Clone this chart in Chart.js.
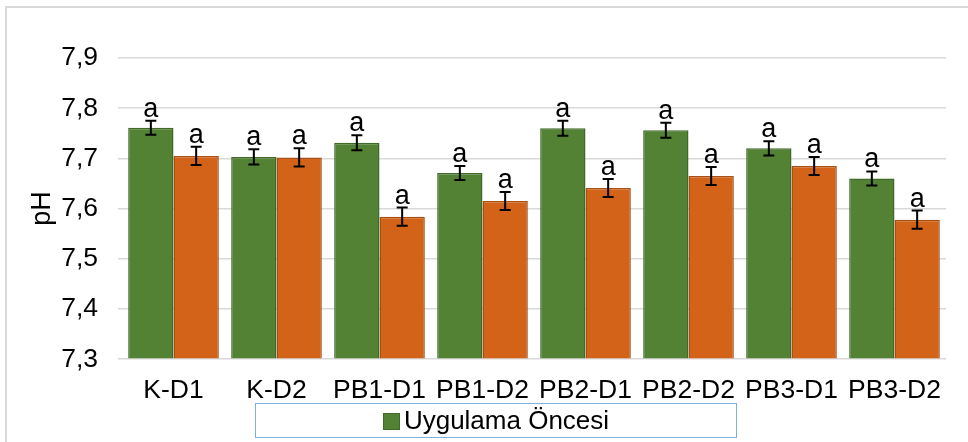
<!DOCTYPE html>
<html>
<head>
<meta charset="utf-8">
<script src="https://cdn.jsdelivr.net/npm/chart.js@4.4.1/dist/chart.umd.min.js"></script>
<style>
  html, body { margin: 0; padding: 0; background: #ffffff; }
  #wrap { position: relative; width: 968px; height: 442px; overflow: hidden; }
  #frame { position: absolute; left: 5px; top: 6px; width: 1000px; height: 500px;
           border-left: 2px solid #d9d9d9; border-top: 2px solid #d9d9d9; }
  canvas { position: absolute; left: 0; top: 0; }
  #legend { position: absolute; left: 255px; top: 403px; width: 480px; height: 33px;
            border: 1.5px solid #7eb0e0; display: flex; align-items: center; justify-content: center;
            font-family: Arial, "Liberation Sans", sans-serif; font-size: 26px; color: #000; }
  #legend .sw { display: inline-block; width: 15px; height: 15px; margin-right: 4px; margin-top: 2px; }
</style>
</head>
<body>
<div id="wrap">
  <div id="frame"></div>
  <canvas id="c" width="968" height="442"></canvas>
  <div id="legend"></div>
</div>
<script>
const categories = ['K-D1', 'K-D2', 'PB1-D1', 'PB1-D2', 'PB2-D1', 'PB2-D2', 'PB3-D1', 'PB3-D2'];
const seriesNames = ['Uygulama Öncesi', 'Uygulama Sonrası'];
const beforeValues = [7.761, 7.703, 7.731, 7.671, 7.760, 7.756, 7.720, 7.660];
const afterValues  = [7.705, 7.702, 7.584, 7.615, 7.641, 7.665, 7.685, 7.578];
const beforeErrors = [0.014, 0.015, 0.015, 0.014, 0.015, 0.015, 0.014, 0.014];
const afterErrors  = [0.018, 0.018, 0.018, 0.018, 0.018, 0.018, 0.018, 0.018];
const beforeLetters = ['a', 'a', 'a', 'a', 'a', 'a', 'a', 'a'];
const afterLetters  = ['a', 'a', 'a', 'a', 'a', 'a', 'a', 'a'];
const yTicks = { min: 7.3, max: 7.9, step: 0.1 };

const FONT = 'Arial, "Liberation Sans", sans-serif';

const errorPlugin = {
  id: 'errorBars',
  afterDatasetsDraw(chart) {
    const ctx = chart.ctx;
    const ys = chart.scales.y;
    chart.data.datasets.forEach((ds, di) => {
      const meta = chart.getDatasetMeta(di);
      meta.data.forEach((bar, i) => {
        const v = ds.data[i], e = ds.errors[i];
        const x = bar.x;
        const yt = ys.getPixelForValue(v + e);
        const yb = ys.getPixelForValue(v - e);
        ctx.save();
        ctx.strokeStyle = '#000';
        ctx.lineWidth = 2;
        ctx.beginPath();
        ctx.moveTo(x, yt); ctx.lineTo(x, yb);
        ctx.moveTo(x - 5.5, yt); ctx.lineTo(x + 5.5, yt);
        ctx.moveTo(x - 5.5, yb); ctx.lineTo(x + 5.5, yb);
        ctx.stroke();
        ctx.fillStyle = '#000';
        ctx.font = '27px ' + FONT;
        ctx.textAlign = 'center';
        ctx.textBaseline = 'alphabetic';
        ctx.fillText(ds.letters[i], x, yt - 4);
        ctx.restore();
      });
    });
  }
};

const chart = new Chart(document.getElementById('c'), {
  type: 'bar',
  data: {
    labels: categories,
    datasets: [
      { label: seriesNames[0], data: beforeValues, errors: beforeErrors, letters: beforeLetters,
        backgroundColor: '#548235', borderColor: '#3f6a27', borderWidth: 1.5 },
      { label: seriesNames[1], data: afterValues, errors: afterErrors, letters: afterLetters,
        backgroundColor: '#d26318', borderColor: '#a84f14', borderWidth: 1.5 }
    ]
  },
  options: {
    responsive: false,
    animation: false,
    events: [],
    layout: { padding: { left: 0, right: 22, top: 58, bottom: 27 } },
    datasets: { bar: { categoryPercentage: 0.88, barPercentage: 1.0, base: yTicks.min } },
    plugins: { legend: { display: false }, tooltip: { enabled: false } },
    scales: {
      x: {
        grid: { display: false },
        border: { display: false },
        ticks: { color: '#000', font: { family: FONT, size: 26.5 }, padding: 8, maxRotation: 0, autoSkip: false }
      },
      y: {
        min: yTicks.min, max: yTicks.max,
        afterFit(scale) { scale.width = 122; },
        grid: { color: '#d9d9d9', lineWidth: 1.5, tickLength: 4 },
        border: { display: false },
        ticks: { stepSize: yTicks.step, color: '#000', padding: 20,
                 font: { family: FONT, size: 26.5 },
                 callback: v => v.toFixed(1).replace('.', ',') },
        title: { display: true, text: 'pH', color: '#000', font: { family: FONT, size: 27 },
                 padding: { top: 26, bottom: 0 } }
      }
    }
  },
  plugins: [errorPlugin]
});

// Legend (only the first series is shown in the reference)
const lg = document.getElementById('legend');
const sw = document.createElement('span');
sw.className = 'sw';
sw.style.background = chart.data.datasets[0].backgroundColor;
sw.style.border = '1px solid ' + chart.data.datasets[0].borderColor;
lg.appendChild(sw);
lg.appendChild(document.createTextNode(chart.data.datasets[0].label));
</script>
</body>
</html>
